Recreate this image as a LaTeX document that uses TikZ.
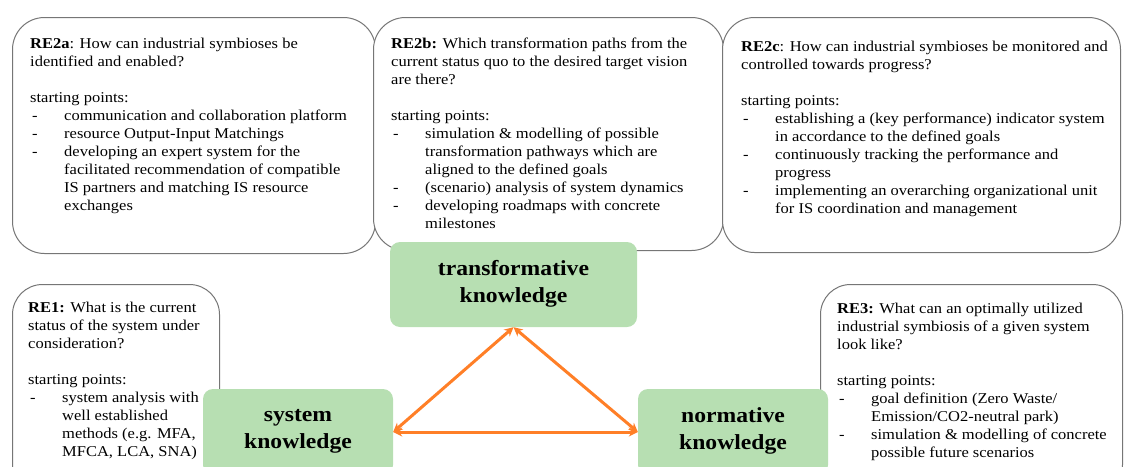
\documentclass[tikz,border=0pt]{standalone}
\usepackage{fontspec}
\setmainfont{Liberation Serif}[FakeStretch=1.1]
\usetikzlibrary{arrows.meta, positioning}

\definecolor{knowgreen}{RGB}{183,223,178}
\definecolor{linkorange}{RGB}{255,127,39}
\definecolor{boxgray}{RGB}{118,118,118}

\newcommand{\dashitem}{\makebox[34pt][l]{\hspace{2pt}-}}
\newcommand{\dashcont}{\hspace*{34pt}}

\begin{document}
\begin{tikzpicture}[x=1pt, y=-1pt,
            question box/.style={draw=boxgray, line width=1pt, fill=white, rounded corners=32pt, anchor=north west, inner sep=0pt},
            question text/.style={anchor=north west, inner sep=0pt, align=left, font=\fontsize{15}{18}\selectfont},
            knowledge/.style={fill=knowgreen, rounded corners=10pt, align=center, inner sep=0pt, font=\fontsize{21.5}{27}\selectfont\bfseries},
            link/.style={draw=linkorange, line width=3pt, arrows={Stealth[length=9pt,width=9pt]-Stealth[length=9pt,width=9pt]}}]

            \clip (0,0) rectangle (1124,466);

            % Research questions (top row)
            \node[question box, minimum width=363pt, minimum height=236pt] (boxRE2a) at (12,17) {};
            \node[question text] (textRE2a) at ([xshift=18pt, yshift=-21pt]boxRE2a.north west) {%
                \textbf{RE2a}: How can industrial symbioses be\\
                identified and enabled?\\[18pt]
                starting points:\\
                \dashitem communication and collaboration platform\\
                \dashitem resource Output-Input Matchings\\
                \dashitem developing an expert system for the\\
                \dashcont facilitated recommendation of compatible\\
                \dashcont IS partners and matching IS resource\\
                \dashcont exchanges};

            \node[question box, minimum width=350pt, minimum height=233pt] (boxRE2b) at (373,17) {};
            \node[question text] (textRE2b) at ([xshift=18pt, yshift=-21pt]boxRE2b.north west) {%
                \textbf{RE2b:} Which transformation paths from the\\
                current status quo to the desired target vision\\
                are there?\\[18pt]
                starting points:\\
                \dashitem simulation \& modelling of possible\\
                \dashcont transformation pathways which are\\
                \dashcont aligned to the defined goals\\
                \dashitem (scenario) analysis of system dynamics\\
                \dashitem developing roadmaps with concrete\\
                \dashcont milestones};

            \node[question box, minimum width=398pt, minimum height=235pt] (boxRE2c) at (722,17) {};
            \node[question text] (textRE2c) at ([xshift=19pt, yshift=-24pt]boxRE2c.north west) {%
                \textbf{RE2c}: How can industrial symbioses be monitored and\\
                controlled towards progress?\\[18pt]
                starting points:\\
                \dashitem establishing a (key performance) indicator system\\
                \dashcont in accordance to the defined goals\\
                \dashitem continuously tracking the performance and\\
                \dashcont progress\\
                \dashitem implementing an overarching organizational unit\\
                \dashcont for IS coordination and management};

            % Research questions (bottom corners)
            \node[question box, rounded corners=30pt, minimum width=207pt, minimum height=210pt] (boxRE1) at (12,284) {};
            \node[question text] (textRE1) at ([xshift=16pt, yshift=-18pt]boxRE1.north west) {%
                \textbf{RE1:} What is the current\\
                status of the system under\\
                consideration?\\[18pt]
                starting points:\\
                \dashitem system analysis with\\
                \dashcont well established\\
                \dashcont methods (e.g. MFA,\\
                \dashcont MFCA, LCA, SNA)};

            \node[question box, rounded corners=30pt, minimum width=302pt, minimum height=210pt] (boxRE3) at (820,284) {};
            \node[question text] (textRE3) at ([xshift=17pt, yshift=-19pt]boxRE3.north west) {%
                \textbf{RE3:} What can an optimally utilized\\
                industrial symbiosis of a given system\\
                look like?\\[18pt]
                starting points:\\
                \dashitem goal definition (Zero Waste/\\
                \dashcont Emission/CO2-neutral park)\\
                \dashitem simulation \& modelling of concrete\\
                \dashcont possible future scenarios};

            % Knowledge types
            \node[knowledge, minimum width=247pt, minimum height=85pt] (transformative) at (513.5,284.5) {transformative\\knowledge\\[-21pt]};
            \node[knowledge, minimum width=190pt, minimum height=86pt] (system) at (298,432) {system\\knowledge\\[-21pt]};
            \node[knowledge, minimum width=190pt, minimum height=86pt] (normative) at (733,432) {normative\\knowledge\\[-21pt]};

            % Links between knowledge types
            \draw[link] (transformative.south) -- (system.east);
            \draw[link] (transformative.south) -- (normative.west);
            \draw[link] (system.east) -- (normative.west);
        \end{tikzpicture}
\end{document}
